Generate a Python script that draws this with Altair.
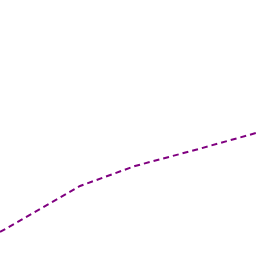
import altair as alt
import pandas as pd

xs = [0, 80, 135, 195, 256]
ys = [24, 70, 90, 106, 123]

df = pd.DataFrame({"x": xs, "y": ys})

chart = alt.Chart(df).mark_line(
    color="#800080", strokeWidth=2, strokeDash=[6, 4], clip=True
).encode(
    x=alt.X("x:Q", scale=alt.Scale(domain=[0, 256], nice=False, zero=False), axis=None),
    y=alt.Y("y:Q", scale=alt.Scale(domain=[0, 256], nice=False, zero=False), axis=None),
).properties(
    width=256, height=256, padding=0, background="white"
).configure_view(strokeWidth=0, stroke="transparent")

chart.save("out.html", embed_options={"renderer": "svg", "actions": False})
